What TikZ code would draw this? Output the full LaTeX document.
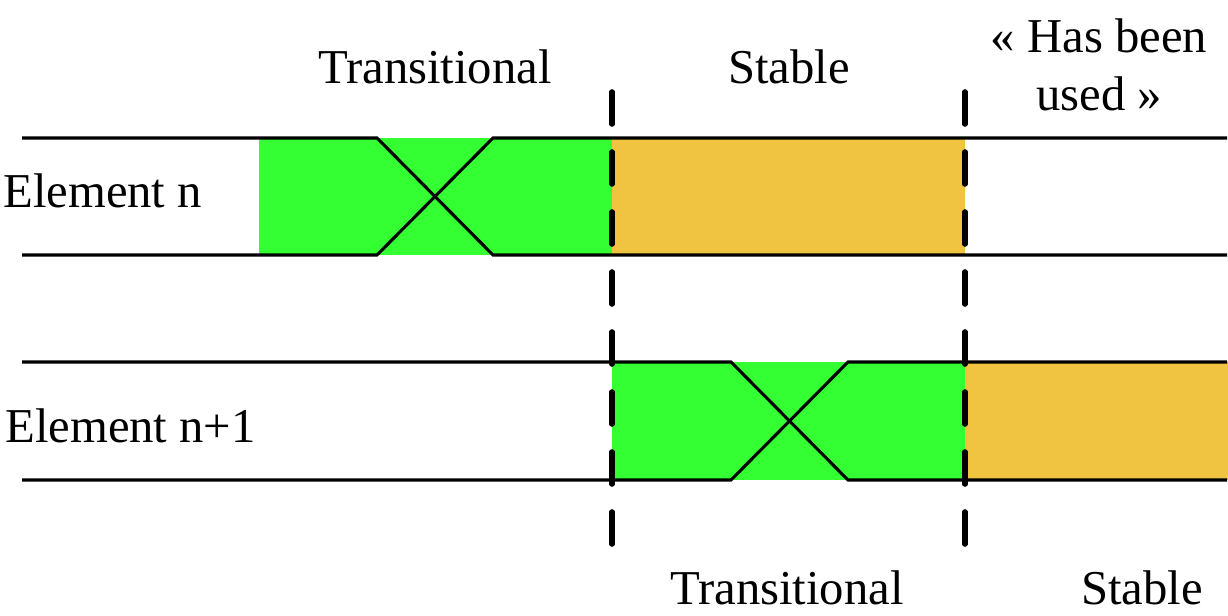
\documentclass[tikz,border=0pt]{standalone}
\usepackage{fontspec}
\setmainfont{Liberation Serif}
\begin{document}
\begin{tikzpicture}[x=0.75pt,y=-0.75pt,
  lbl/.style={inner sep=0pt,anchor=base,font=\fontsize{36.5}{44}\selectfont},
  lblw/.style={lbl,anchor=base west},
  sig/.style={line width=2.3pt,line cap=butt},
  sep/.style={line width=4.2pt,line cap=round,dash pattern=on 24pt off 21pt},
  trans/.style={fill=tgreen},
  stab/.style={fill=torange}]
\definecolor{tgreen}{RGB}{51,255,51}
\definecolor{torange}{RGB}{240,196,64}
\useasboundingbox (0,0) rectangle (1228,616);
% fills
\fill[trans] (259,138) rectangle (612,255);
\fill[stab] (612,138) rectangle (965,255);
\fill[trans] (612,362) rectangle (965,480);
\fill[stab] (965,362) rectangle (1228,480);
% row 1 signal
\draw[sig] (22,138) -- (377,138) -- (493,255) -- (1227,255);
\draw[sig] (22,255) -- (377,255) -- (493,138) -- (1227,138);
% row 2 signal
\draw[sig] (22,362) -- (731,362) -- (848,480) -- (1227,480);
\draw[sig] (22,480) -- (731,480) -- (848,362) -- (1227,362);
% separators
\coordinate (s1t) at (612,92);
\coordinate (s1b) at (612,545);
\coordinate (s2t) at (965,92);
\coordinate (s2b) at (965,545);
\draw[sep] (s1t) -- (s1b);
\draw[sep] (s2t) -- (s2b);
% labels
\node[lbl] (t1) at (435,84) {Transitional};
\node[lbl] (st1) at (789,84) {Stable};
\node[lbl] (hb1) at (1099,53) {« Has been};
\node[lbl] (hb2) at (1099,111) {used »};
\node[lblw] (en) at (3,208) {Element n};
\node[lblw] (en1) at (5,443) {Element n+1};
\node[lbl] (t2) at (787,604) {Transitional};
\node[lbl] (st2) at (1142,604) {Stable};
\end{tikzpicture}
\end{document}
